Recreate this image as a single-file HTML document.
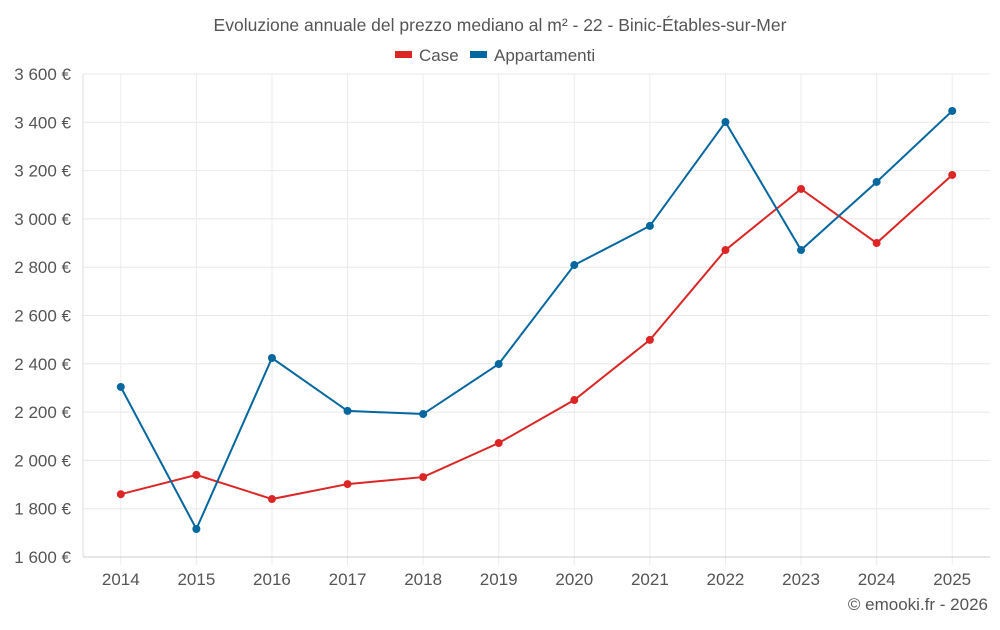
<!DOCTYPE html>
<html><head><meta charset="utf-8"><style>
body{margin:0;background:#fff;font-family:"Liberation Sans",sans-serif}
svg text{font-family:"Liberation Sans",sans-serif;fill:#555}
</style></head><body>
<svg id="c" width="1000" height="625">
<text x="500" y="31" text-anchor="middle" font-size="17.5">Evoluzione annuale del prezzo mediano al m² - 22 - Binic-Étables-sur-Mer</text>
<g>
<g><rect x="395" y="51" width="17" height="7" fill="#dc2626"/><text x="419" y="61" font-size="17">Case</text></g>
<g><rect x="470" y="51" width="17" height="7" fill="#04679f"/><text x="494" y="61" font-size="17">Appartamenti</text></g>
</g>
<g id="grid"></g><g id="axes"></g><g id="series"></g>
<text x="988" y="610" text-anchor="end" font-size="17">© emooki.fr - 2026</text>
</svg>
<script>
const years=['2014','2015','2016','2017','2018','2019','2020','2021','2022','2023','2024','2025'];
const caseValues=[1860,1940,1840,1902,1931,2072,2250,2499,2871,3124,2900,3182];
const apptValues=[2304,1716,2424,2205,2192,2399,2809,2971,3401,2871,3153,3447];
const yTicks=[1600,1800,2000,2200,2400,2600,2800,3000,3200,3400,3600];
const yTickLabels=['1 600 €','1 800 €','2 000 €','2 200 €','2 400 €','2 600 €','2 800 €','3 000 €','3 200 €','3 400 €','3 600 €'];
const L=83,R=990,T=74,B=557,ns='http://www.w3.org/2000/svg';
const step=(R-L)/years.length;
const x=i=>L+step*(i+0.5);
const y=v=>B-(v-1600)/2000*(B-T);
function mk(t,a,p){const e=document.createElementNS(ns,t);for(const k in a)e.setAttribute(k,a[k]);p.appendChild(e);return e;}
const g=document.getElementById('grid'),ax=document.getElementById('axes'),s=document.getElementById('series');
yTicks.forEach((v,i)=>{
 const l=mk('line',{x1:L,x2:R,y1:y(v),y2:y(v),stroke:'#e8e8e8'},g);
 
 
 const t=mk('text',{x:71,y:y(v)+6,'text-anchor':'end','font-size':17},ax);t.textContent=yTickLabels[i];
 
 
});
years.forEach((yr,i)=>{
 const l=mk('line',{x1:x(i),x2:x(i),y1:T,y2:B+8,stroke:'#ececec'},g);
 
 
 const t=mk('text',{x:x(i),y:585,'text-anchor':'middle','font-size':17},ax);t.textContent=yr;
 
 
});
const a1=mk('line',{x1:L,x2:L,y1:T,y2:B,stroke:'#ddd'},ax);


const a2=mk('line',{x1:L,x2:R,y1:B,y2:B,stroke:'#ccc'},ax);


function draw(vals,col,name){
 const p=mk('polyline',{points:vals.map((v,i)=>x(i)+','+y(v)).join(' '),fill:'none',stroke:col,'stroke-width':2},s);
 
 
 vals.forEach((v,i)=>{const c=mk('circle',{cx:x(i),cy:y(v),r:4,fill:col},s);
 
 });
}
draw(caseValues,'#dc2626','case');
draw(apptValues,'#04679f','appartamenti');
</script>
</body></html>
